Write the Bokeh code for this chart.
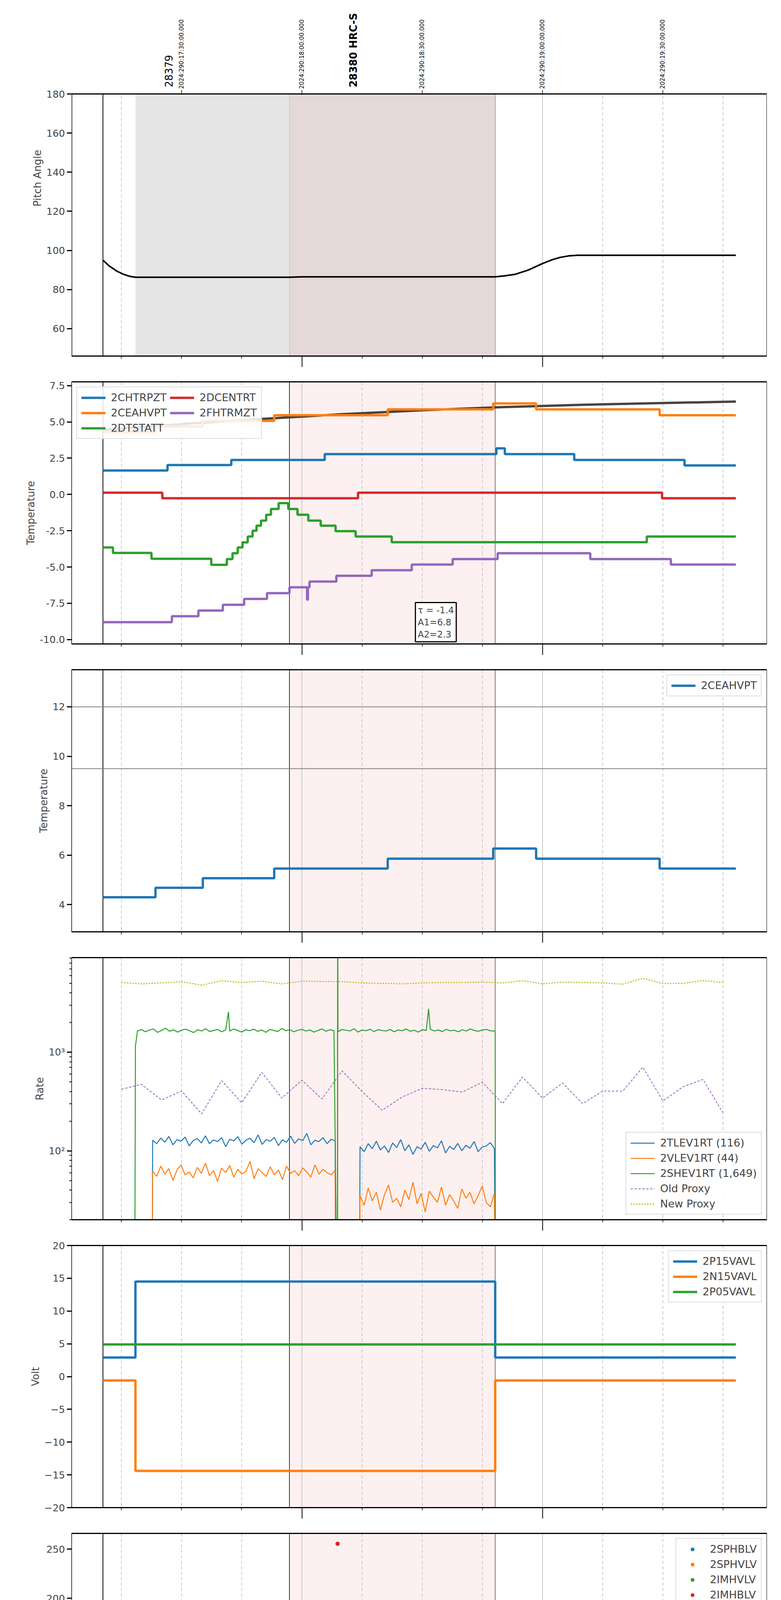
import math
import numpy as np
from bokeh.plotting import figure
from bokeh.models import Range1d, FixedTicker, LinearAxis, Span, BoxAnnotation, Label, Legend, LegendItem
from bokeh.core.properties import value
from bokeh.layouts import column
from bokeh.embed import file_html
from bokeh.resources import INLINE

# ---------------- data (x in minutes after 13:00 on 2024-10-16) ----------------
quarters = [15, 30, 45, 75, 90, 105, 135, 150, 165]
hours = [60, 120]
quarter_labels = {15: "15", 30: "30", 45: "45", 75: "15", 90: "30", 105: "45", 135: "15", 150: "30", 165: "45"}
hour_labels = {60: "14h", 120: "15h"}
top_ticks = [30, 60, 90, 120, 150]
top_labels = ["2024:290:17:30:00.000", "2024:290:18:00:00.000", "2024:290:18:30:00.000",
              "2024:290:19:00:00.000", "2024:290:19:30:00.000"]
obs_x = [26.8, 72.8]
obs_labels = ["28379", "28380 HRC-S"]
event_lines = [10.4, 56.9, 108.2]
obs_prev = (18.5, 56.9)
obs_cur = (56.9, 108.2)

pitch_t = [10.4, 12.0, 13.8, 15.5, 17.0, 18.5, 56.9, 60.0, 108.2, 110.5, 113.2, 116.5, 120.0, 122.5, 124.3, 126.5, 128.7, 168.2]
pitch_v = [95.0, 92.0, 89.5, 87.8, 86.8, 86.3, 86.3, 86.5, 86.5, 87.0, 87.8, 90.0, 93.3, 95.3, 96.4, 97.2, 97.5, 97.5]

chtrpzt_t = [10.4, 26.5, 42.4, 65.7, 108.5, 110.6, 127.9, 155.4, 168.2]
chtrpzt_v = [1.65, 2.03, 2.38, 2.78, 3.18, 2.78, 2.38, 2.0, 2.0]
ceahvpt_t = [10.4, 23.5, 35.3, 53.1, 81.4, 107.7, 118.4, 149.2, 168.2]
ceahvpt_v = [4.3, 4.68, 5.07, 5.46, 5.86, 6.27, 5.86, 5.46, 5.46]
dtstatt_t = [10.4, 12.9, 22.5, 37.4, 41.3, 42.7, 44.0, 45.2, 46.5, 47.7, 48.7, 49.8, 51.1, 52.3, 54.2,
             56.6, 58.9, 61.6, 64.7, 68.4, 73.4, 82.4, 146.0, 168.2]
dtstatt_v = [-3.65, -4.03, -4.43, -4.85, -4.45, -4.05, -3.65, -3.3, -2.9, -2.5, -2.15, -1.8, -1.4, -1.0, -0.6,
             -1.0, -1.4, -1.8, -2.15, -2.53, -2.9, -3.29, -2.9, -2.9]
dcentrt_t = [10.4, 25.2, 74.0, 149.8, 168.2]
dcentrt_v = [0.12, -0.26, 0.12, -0.26, -0.26]
fhtrmzt_t = [10.4, 27.6, 34.2, 40.3, 45.6, 51.3, 56.9, 61.3, 61.5, 61.9, 68.6, 77.4, 87.4, 97.6, 108.8, 131.9, 152.0, 168.2]
fhtrmzt_v = [-8.8, -8.39, -8.0, -7.6, -7.2, -6.8, -6.4, -7.25, -6.4, -6.0, -5.6, -5.22, -4.83, -4.45, -4.05, -4.45, -4.83, -4.83]
model_t = [10.4, 30, 50, 70, 90, 110, 130, 150, 168.2]
model_v = [4.45, 4.85, 5.2, 5.53, 5.8, 6.02, 6.18, 6.3, 6.4]
fit_text = "τ = -1.4\nA1=6.8\nA2=2.3"

# rates
shev_noise = [1640,1700,1610,1680,1720,1590,1660,1750,1630,1690,1600,1670,1710,1650,1580,1690,1640,1730,1620,1660,
              1700,1610,1680,1640,1720,1660,1600,1690,1650,1710,1630,1680,1590,1700,1660,1620,1740,1650,1690,1610,
              1670,1700,1640,1680,1600,1660,1720,1630,1690,1650,1610,1700,1670,1640,1730,1600,1680,1650,1710,1620,
              1690,1660,1640,1700,1610,1680,1650,1720,1630,1670,1600,1690,1660,1710,1640,1680,1620,1700,1650,1670,
              1610,1690,1640,1720,1660,1630,1680,1700,1650,1640]
shev_extra_t = [18.3, 18.5, 41.7, 68.88, 68.92, 91.6, 108.2, 108.25]
shev_extra_v = [1, 1150, 2560, 1, 100000, 2755, 1600, 1]
tlev_seg1 = [128,118,135,122,140,115,130,125,138,112,127,133,120,142,118,129,124,136,110,131,126,139,117,128,
             134,121,145,116,130,125,137,113,129,122,141,119,132,127,150,115,128,124,136,118,131,126]
tlev_seg2 = [110,98,118,105,125,102,112,96,120,108,130,100,115,92,110,104,122,99,113,107,126,95,111,103,119,100,
             114,106,124,98,109,112,121,105]
vlev_seg1 = [62,55,70,58,66,50,64,72,57,61,53,68,59,75,56,63,49,67,60,71,54,65,58,62,78,52,66,60,55,69,57,64,51,70,
             59,63,56,67,61,54,72,58,65,60,57,63]
vlev_seg2 = [35,28,42,31,38,25,36,45,30,33,27,40,32,48,29,37,24,39,34,30,43,28,36,31,26,41,33,38,29,35,44,30,27,37]
seg1_span = (22.8, 68.3)
seg2_span = (74.5, 108.0)
gap_t = [22.6, 68.5, 74.3, 108.3]
vlev_spike_t = [68.85, 68.9, 68.95]
vlev_spike_v = [1, 1600, 1]
proxy_t = [15, 20, 25, 30, 35, 40, 45, 50, 55, 60, 65, 70, 75, 80, 85, 90, 95, 100, 105, 110, 115, 120, 125,
           130, 135, 140, 145, 150, 155, 160, 165]
old_proxy = [421,472,328,403,237,515,307,624,343,520,335,646,400,258,351,430,418,394,497,301,559,343,487,301,
             403,403,705,321,445,530,242]
new_proxy = [5085,4930,5040,5190,4780,5310,5085,5250,4930,5250,5210,5190,5040,4990,4930,5040,5085,5085,5140,5040,
             5310,4930,5140,5100,5040,4890,5620,4960,4990,5330,5085]

# volts
volt_t = [10.4, 18.5, 108.2, 168.2]
p15_v = [2.9, 14.5, 2.9, 2.9]
n15_v = [-0.6, -14.4, -0.6, -0.6]
p05_t = [10.4, 168.2]
p05_v = [4.9, 4.9]

# HV monitor
imhb_t = [20.0, 20.05, 20.1, 20.3, 20.5, 21.0, 21.6, 22.0, 22.2, 68.9]
imhb_v = [126, 124, 119, 106, 104, 101, 97, 93, 89, 255.5]
imhb_flat = (22.5, 68.4, 85.5)
imhv_t = [20.1, 20.7, 21.3, 21.9, 22.5]
imhv_v = [100, 95, 90, 86, 82]
imhv_flat = (22.9, 68.4, 79.2)
sphb_t = [71.3, 71.6, 72.3, 72.9, 73.5, 74.2]
sphb_v = [118, 102, 97, 92, 87, 82]
sphb_flat = (74.5, 108.2, 77.3)
sphv_t = [71.3, 71.6, 72.3, 72.9, 73.5, 74.2]
sphv_v = [127, 96, 91, 86, 81, 75]
sphv_flat = (74.5, 108.2, 70.5)

# detector temps
spin_t = [18.4, 34.5, 42.0, 43.3, 44.3, 45.2, 46.2, 47.3, 48.5, 49.8, 51.3, 52.8, 54.2, 56.4, 58.3, 60.0, 62.2,
          65.0, 68.4, 72.2, 77.8, 85.2, 98.3, 108.2]
spin_v = [1.73, 1.28, 1.75, 2.2, 2.7, 3.2, 3.65, 4.15, 4.65, 5.15, 5.7, 6.25, 6.75, 6.2, 5.7, 5.15, 4.65, 4.2,
          3.65, 3.15, 2.7, 2.2, 1.75, 1.75]
sphva_t = [18.4, 53.8, 76.1, 80.9, 84.6, 88.8, 93.0, 97.4, 102.0, 108.2]
sphva_v = [12.67, 12.99, 13.35, 13.65, 14.0, 14.35, 14.69, 15.04, 15.38, 15.38]
imin_t = [18.4, 25.3, 25.6, 29.6, 103.6, 108.2]
imin_v = [-1.41, -1.0, -1.41, -0.95, -0.54, -0.54]
imhva_t = [18.4, 18.41, 30.4, 36.2, 41.2, 46.4, 53.8, 62.7, 68.85, 68.95, 81.6, 91.3, 108.2, 108.25, 108.3]
imhva_v = [-50, 12.0, 12.35, 12.67, 13.0, 13.3, 13.7, 13.95, -50, 13.95, 13.65, 13.3, 50, -50, -50]

# FEA temps
frad_t = [16.0, 19.4, 23.5, 27.1, 30.8, 34.8, 39.6, 44.1, 49.2, 54.3, 59.8, 68.2, 72.7, 108.6, 116.4, 132.5, 150.8, 168.2]
frad_v = [-10.03, -9.63, -9.23, -8.83, -8.4, -8.0, -7.6, -7.15, -6.75, -6.38, -5.98, -6.38, -6.78, -6.38, -6.78,
          -7.18, -7.58, -7.58]
fepr_t = [18.45, 18.5, 20.2, 22.9, 25.3, 28.1, 30.9, 34.7, 38.6, 43.1, 47.8, 52.9, 58.0, 63.4, 68.85, 68.95, 69.1,
          75.7, 83.6, 93.0, 103.2, 107.9]
fepr_v = [-10.2, -9.39, -8.97, -8.54, -8.12, -7.70, -7.29, -6.87, -6.46, -6.04, -5.62, -5.21, -4.79, -4.37, -6.05,
          -4.37, -3.96, -3.53, -3.12, -2.70, -2.27, -2.27]
fe00_t = [18.5, 25.1, 29.6, 33.7, 37.9, 42.3, 46.3, 50.5, 54.4, 58.5, 63.1, 68.85, 68.95, 75.7, 83.55, 83.65, 91.7,
          98.3, 108.2, 108.25, 108.3]
fe00_v = [-10.05, -9.68, -9.3, -8.92, -8.55, -8.19, -7.83, -7.48, -7.12, -6.76, -6.4, -50, -6.05, -5.70, -4.95,
          -5.36, -5.01, -4.66, 50, -50, -50]

C = ["#1f77b4", "#ff7f0e", "#2ca02c", "#d62728", "#9467bd", "#bcbd22"]
FONT = "DejaVu Sans"
TICK_FS = "25px"
LAB_FS = "26px"
LEG_FS = "27px"
X0, X1 = 2.6, 175.9
FRAME_H = 671
TOP_PX = 240
GAP = 33


def base(ylabel, yr, yticks, log=False, bottom=GAP, overrides=None, minor=None, pitch=False):
    if pitch:
        upp = (yr[1] - yr[0]) / FRAME_H
        yrange = Range1d(yr[0], yr[1] + TOP_PX * upp)
        fh, top = FRAME_H + TOP_PX, 0
    else:
        yrange = Range1d(*yr)
        fh, top = FRAME_H, GAP
    p = figure(frame_width=1780, frame_height=fh, x_range=Range1d(X0, X1), y_range=yrange,
               y_axis_type="log" if log else "linear", output_backend="svg", toolbar_location=None,
               min_border_left=183, min_border_right=8, min_border_top=top, min_border_bottom=bottom)
    p.outline_line_color = None if pitch else "black"
    p.outline_line_width = 1
    p.xgrid.visible = False
    p.ygrid.visible = False
    ya = p.yaxis[0]
    ya.ticker = FixedTicker(ticks=yticks, minor_ticks=minor or [])
    ya.major_tick_out = 12
    ya.major_tick_in = 0
    ya.major_tick_line_width = 3
    ya.minor_tick_out = 6
    ya.minor_tick_in = 0
    ya.minor_tick_line_width = 2
    ya.axis_line_width = 1.5
    ya.major_label_text_font_size = TICK_FS
    ya.major_label_text_font = FONT
    ya.axis_label = ylabel
    ya.axis_label_text_font_size = LAB_FS
    ya.axis_label_text_font = FONT
    ya.axis_label_text_font_style = "normal"
    if overrides:
        ya.major_label_overrides = overrides
    xa = p.xaxis[0]
    xa.ticker = FixedTicker(ticks=quarters, minor_ticks=hours)
    xa.major_tick_out = 7
    xa.major_tick_in = 0
    xa.minor_tick_out = 28
    xa.minor_tick_in = 0
    xa.minor_tick_line_width = 2
    xa.major_tick_line_width = 1.5
    xa.axis_line_width = 3
    xa.major_label_overrides = {q: "" for q in quarters}
    if pitch:
        ytop = yr[1]
        upp = (yr[1] - yr[0]) / FRAME_H
        ya.axis_line_color = None
        p.segment(x0=[X0], y0=[yr[0]], x1=[X0], y1=[ytop], line_color="black", line_width=3)
        p.segment(x0=[X1], y0=[yr[0]], x1=[X1], y1=[ytop], line_color="black", line_width=2)
        p.add_layout(BoxAnnotation(left=obs_prev[0], right=obs_prev[1], bottom=yr[0], top=ytop, fill_color="#e5e5e5",
                                   fill_alpha=1, line_color=None, level="underlay"))
        p.add_layout(BoxAnnotation(left=obs_cur[0], right=obs_cur[1], bottom=yr[0], top=ytop, fill_color="#e4d8d8",
                                   fill_alpha=1, line_color=None, level="underlay"))
        p.segment(x0=quarters, y0=[yr[0]] * len(quarters), x1=quarters, y1=[ytop] * len(quarters),
                  line_color="#b0b0b0", line_width=1.3, line_dash="8 6", level="underlay")
        p.segment(x0=hours, y0=[yr[0]] * 2, x1=hours, y1=[ytop] * 2, line_color="#b0b0b0", line_width=1.3,
                  level="underlay")
        for loc, w in zip(event_lines, [2, 1.5, 1]):
            p.segment(x0=[loc], y0=[yr[0]], x1=[loc], y1=[ytop], line_color="black", line_width=w, level="underlay")
        p.segment(x0=[X0], y0=[ytop], x1=[X1], y1=[ytop], line_color="black", line_width=3)
        p.segment(x0=top_ticks, y0=[ytop] * 5, x1=top_ticks, y1=[ytop + 10 * upp] * 5, line_color="black",
                  line_width=1.5)
        p.text(x=top_ticks, y=[ytop + 13 * upp] * 5, text=top_labels, angle=math.pi / 2, text_align="left",
               text_baseline="middle", text_font_size="15px", text_font=value(FONT))
        p.text(x=obs_x[:1], y=[ytop + 17 * upp], text=obs_labels[:1], angle=math.pi / 2, text_align="left",
               text_baseline="middle", text_font_size="26px", text_font=value(FONT))
        p.text(x=obs_x[1:], y=[ytop + 17 * upp], text=obs_labels[1:], angle=math.pi / 2, text_align="left",
               text_baseline="middle", text_font_size="26px", text_font=value(FONT), text_font_style="bold")
        return p
    ta = LinearAxis(ticker=FixedTicker(ticks=[]), axis_line_width=3, major_tick_out=0, minor_tick_out=0)
    p.add_layout(ta, "above")
    p.add_layout(BoxAnnotation(left=obs_cur[0], right=obs_cur[1], fill_color="#fdf0f0", fill_alpha=1,
                               line_color=None, level="underlay"))
    for q in quarters:
        p.add_layout(Span(location=q, dimension="height", line_color="#b0b0b0", line_width=1.3,
                          line_dash="8 6", level="underlay"))
    for h in hours:
        p.add_layout(Span(location=h, dimension="height", line_color="#b0b0b0", line_width=1.3, level="underlay"))
    for loc, w in zip(event_lines, [2, 1.5, 1]):
        p.add_layout(Span(location=loc, dimension="height", line_color="black", line_width=w, level="underlay"))
    return p


def legend(p, items, loc, **kw):
    lg = Legend(items=[LegendItem(label=l, renderers=[r]) for l, r in items], location=loc,
                label_text_font_size=LEG_FS, label_text_font=FONT, glyph_width=62, glyph_height=24,
                background_fill_alpha=0.85, border_line_color="#d0d0d0", border_line_width=3,
                label_standoff=14, spacing=8, padding=10, margin=12, **kw)
    p.add_layout(lg)


figs = []

# 1 Pitch
p1 = base("Pitch Angle", (46, 180), list(range(60, 181, 20)), pitch=True)
p1.line(pitch_t, pitch_v, line_color="black", line_width=4)
figs.append(p1)

# 2 Temperature
p2 = base("Temperature", (-10.3, 7.76), [-10, -7.5, -5, -2.5, 0, 2.5, 5, 7.5],
          overrides={-10: "-10.0", -7.5: "-7.5", -5: "-5.0", -2.5: "-2.5", 0: "0.0", 2.5: "2.5", 5: "5.0", 7.5: "7.5"})
r_model = p2.line(model_t, model_v, line_color="#444444", line_width=6)
r1 = p2.step(chtrpzt_t, chtrpzt_v, mode="after", line_color=C[0], line_width=6)
r2 = p2.step(ceahvpt_t, ceahvpt_v, mode="after", line_color=C[1], line_width=6)
r3 = p2.step(dtstatt_t, dtstatt_v, mode="after", line_color=C[2], line_width=6)
r4 = p2.step(dcentrt_t, dcentrt_v, mode="after", line_color=C[3], line_width=6)
r5 = p2.step(fhtrmzt_t, fhtrmzt_v, mode="after", line_color=C[4], line_width=6)
legend(p2, [("2CHTRPZT", r1), ("2CEAHVPT", r2), ("2DTSTATT", r3), ("2DCENTRT", r4), ("2FHTRMZT", r5)],
       "top_left", nrows=3)
p2.add_layout(Label(x=88.3, y=-7.45, text=fit_text, text_align="left", text_baseline="top",
                    text_font_size="23px", text_font=FONT, border_line_color="black", border_line_width=3,
                    background_fill_color="white", padding=6))
figs.append(p2)

# 3 2CEAHVPT
p3 = base("Temperature", (2.9, 13.5), [4, 6, 8, 10, 12])
for lv in [12, 9.5]:
    p3.add_layout(Span(location=lv, dimension="width", line_color="#808080", line_width=2, level="underlay"))
r = p3.step(ceahvpt_t, ceahvpt_v, mode="after", line_color=C[0], line_width=6)
legend(p3, [("2CEAHVPT", r)], "top_right")
figs.append(p3)

# 4 Rate
minor_log = [20, 30, 40, 50, 60, 70, 80, 90, 200, 300, 400, 500, 600, 700, 800, 900,
             2000, 3000, 4000, 5000, 6000, 7000, 8000, 9000]
p4 = base("Rate", (20, 9100), [100, 1000], log=True, overrides={100: "10²", 1000: "10³"}, minor=minor_log)
g_t = np.concatenate([np.arange(19, 109, 1.0)[:len(shev_noise)], shev_extra_t])
g_v = np.concatenate([shev_noise, shev_extra_v])
o = np.argsort(g_t, kind="stable")
b_t = np.concatenate([[gap_t[0]], np.linspace(*seg1_span, len(tlev_seg1)), gap_t[1:3],
                      np.linspace(*seg2_span, len(tlev_seg2)), [gap_t[3]]])
b_v = np.concatenate([[1], tlev_seg1, [1, 1], tlev_seg2, [1]])
v_t = np.concatenate([[gap_t[0]], np.linspace(*seg1_span, len(vlev_seg1)), [gap_t[1]], vlev_spike_t, [gap_t[2]],
                      np.linspace(*seg2_span, len(vlev_seg2)), [gap_t[3]]])
v_v = np.concatenate([[1], vlev_seg1, [1], vlev_spike_v, [1], vlev_seg2, [1]])
ra = p4.line(b_t, b_v, line_color=C[0], line_width=2.5)
rb = p4.line(v_t, v_v, line_color=C[1], line_width=2.5)
rc = p4.line(g_t[o], g_v[o], line_color=C[2], line_width=2.5)
rd = p4.line(proxy_t, old_proxy, line_color=C[4], line_width=2, line_dash="6 4")
re = p4.line(proxy_t, new_proxy, line_color=C[5], line_width=2.5, line_dash="4 3")
legend(p4, [("2TLEV1RT (116)", ra), ("2VLEV1RT (44)", rb), ("2SHEV1RT (1,649)", rc), ("Old Proxy", rd),
            ("New Proxy", re)], "bottom_right")
figs.append(p4)

# 5 Volt
p5 = base("Volt", (-20, 20), [-20, -15, -10, -5, 0, 5, 10, 15, 20])
ra = p5.step(volt_t, p15_v, mode="after", line_color=C[0], line_width=6)
rb = p5.step(volt_t, n15_v, mode="after", line_color=C[1], line_width=6)
rc = p5.step(p05_t, p05_v, mode="after", line_color=C[2], line_width=6)
legend(p5, [("2P15VAVL", ra), ("2N15VAVL", rb), ("2P05VAVL", rc)], "top_right")
figs.append(p5)

# 6 HV monitor
p6 = base("HV Monitor", (0, 266), [0, 50, 100, 150, 200, 250])


def flat(seg):
    t = np.arange(seg[0], seg[1], 0.15)
    return t, np.full(len(t), seg[2])


series6 = []
for (tt, vv, fl, col, name) in [(sphb_t, sphb_v, sphb_flat, C[0], "2SPHBLV"), (sphv_t, sphv_v, sphv_flat, C[1], "2SPHVLV"),
                                 (imhv_t, imhv_v, imhv_flat, C[2], "2IMHVLV"), (imhb_t, imhb_v, imhb_flat, C[3], "2IMHBLV")]:
    ft, fv = flat(fl)
    r = p6.scatter(np.concatenate([tt, ft]), np.concatenate([vv, fv]), size=11, fill_color=col, line_color=None)
    series6.append((name, r))
legend(p6, series6, "top_right")
figs.append(p6)

# 7 Detector temp
p7 = base("Detector Temp", (-2.3, 15.46), [-2, 0, 2, 4, 6, 8, 10, 12, 14])
ra = p7.step(spin_t, spin_v, mode="after", line_color=C[0], line_width=6)
rb = p7.step(sphva_t, sphva_v, mode="after", line_color=C[1], line_width=6)
rc = p7.step(imin_t, imin_v, mode="after", line_color=C[2], line_width=6)
rd = p7.step(imhva_t, imhva_v, mode="after", line_color=C[3], line_width=6)
legend(p7, [("2SPINATM", ra), ("2SPHVATM", rb), ("2IMINATM", rc), ("2IMHVATM", rd)], "top_right")
figs.append(p7)

# 8 FEA temp
p8 = base("FEA Temp", (-10.03, -1.63), [-10, -9, -8, -7, -6, -5, -4, -3, -2], bottom=88)
ra = p8.step(fhtrmzt_t, fhtrmzt_v, mode="after", line_color=C[0], line_width=6)
rb = p8.step(frad_t, frad_v, mode="after", line_color=C[1], line_width=6)
rc = p8.step(fepr_t, fepr_v, mode="after", line_color=C[2], line_width=6)
rd = p8.step(fe00_t, fe00_v, mode="after", line_color=C[3], line_width=6)
legend(p8, [("2FHTRMZT", ra), ("2FRADPYT", rb), ("2FEPRATM", rc), ("2FE00ATM", rd)], "top_right")
xa = p8.below[0]
xa.major_label_text_font_size = "20px"
xa.major_label_text_font = FONT
xa.major_label_overrides = quarter_labels
xa.major_label_standoff = 4
xb = LinearAxis(ticker=FixedTicker(ticks=hours), major_label_overrides=hour_labels, axis_line_color=None,
                major_tick_line_color=None, minor_tick_line_color=None, major_label_standoff=0,
                major_label_text_font_size="25px", major_label_text_font=FONT,
                axis_label="2024-10-16 (290)", axis_label_text_font_size="28px", axis_label_text_font=FONT,
                axis_label_text_font_style="normal", axis_label_standoff=6)
p8.add_layout(xb, "below")
figs.append(p8)

page = column(*figs, spacing=0)
open("out.html", "w").write(file_html(page, INLINE))
